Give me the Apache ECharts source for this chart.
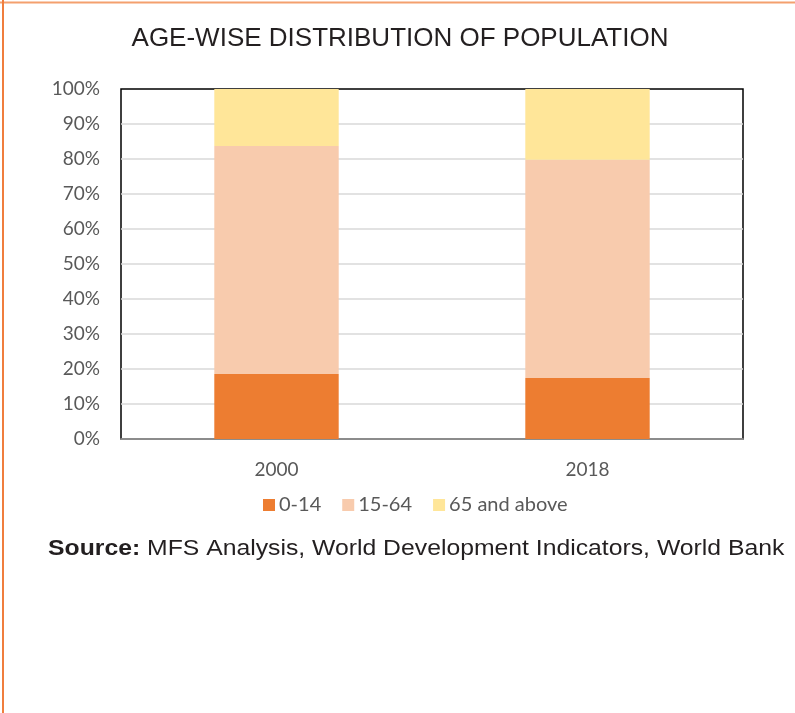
<!DOCTYPE html>
<html><head><meta charset="utf-8">
<script src="https://cdn.jsdelivr.net/npm/echarts@6/dist/echarts.min.js"></script>
<style>html,body{margin:0;padding:0;background:#fff}#c{width:795px;height:713px}</style>
</head><body><div id="c"></div>
<script>
const categories = ['2000', '2018'];
const age0to14 = [18.6, 17.4];
const age15to64 = [65.1, 62.4];
const age65plus = [16.3, 20.2];
const seriesNames = ['0-14', '15-64', '65 and above'];
const colors = ['#ED7D31', '#F8CBAD', '#FFE699'];

const chart = echarts.init(document.getElementById('c'));
const lblFont = 'Lato, "Open Sans", sans-serif';
const srcFont = '"Liberation Sans", Arial, sans-serif';
chart.setOption({
  animation: false,
  graphic: [
    { type: 'line', shape: { x1: 0, y1: 2.5, x2: 795, y2: 2.5 }, style: { stroke: '#F4A06E', lineWidth: 2 } },
    { type: 'line', shape: { x1: 3, y1: 0, x2: 3, y2: 713 }, style: { stroke: '#F07E3E', lineWidth: 2 } },
    { type: 'text', x: 48, y: 549, scaleX: 1.125, originX: 0, originY: 0,
      style: { text: '{b|Source:} MFS Analysis, World Development Indicators, World Bank',
        verticalAlign: 'middle',
        rich: { b: { fontWeight: 'bold', fontSize: 22, fontFamily: srcFont, fill: '#231F20' } },
        fontSize: 22, fontFamily: srcFont, fill: '#231F20' } }
  ],
  title: {
    text: 'AGE-WISE DISTRIBUTION OF POPULATION', left: 395, top: 21, textAlign: 'center',
    textStyle: { fontFamily: '"Liberation Sans", Arial, sans-serif', fontWeight: 'normal', fontSize: 26, color: '#231F20' }
  },
  legend: {
    data: seriesNames, top: 490, left: 258, itemWidth: 12, itemHeight: 12, itemGap: 21,
    icon: 'rect', textStyle: { fontFamily: lblFont, fontSize: 20, color: '#595959', padding: [0, 0, 0, -1] }
  },
  grid: { left: 121, right: 795 - 743, top: 89, bottom: 713 - 439, show: true, borderColor: '#000', borderWidth: 1.5, backgroundColor: 'transparent' },
  xAxis: {
    type: 'category', data: categories,
    axisLine: { lineStyle: { color: '#A6A6A6', width: 1.5 } }, axisTick: { show: false },
    axisLabel: { fontFamily: lblFont, fontSize: 19, color: '#595959', margin: 21 }
  },
  yAxis: {
    type: 'value', min: 0, max: 100, interval: 10,
    axisLine: { show: false }, axisTick: { show: false },
    axisLabel: { formatter: '{value}%', fontFamily: lblFont, fontSize: 19, color: '#595959', margin: 21 },
    splitLine: { showMaxLine: false, showMinLine: false, lineStyle: { color: '#D9D9D9', width: 1.5 } }
  },
  series: [
    { name: seriesNames[0], type: 'bar', stack: 'a', data: age0to14, barWidth: '40%', itemStyle: { color: colors[0] } },
    { name: seriesNames[1], type: 'bar', stack: 'a', data: age15to64, itemStyle: { color: colors[1] } },
    { name: seriesNames[2], type: 'bar', stack: 'a', data: age65plus, itemStyle: { color: colors[2] } }
  ]
});
</script></body></html>
